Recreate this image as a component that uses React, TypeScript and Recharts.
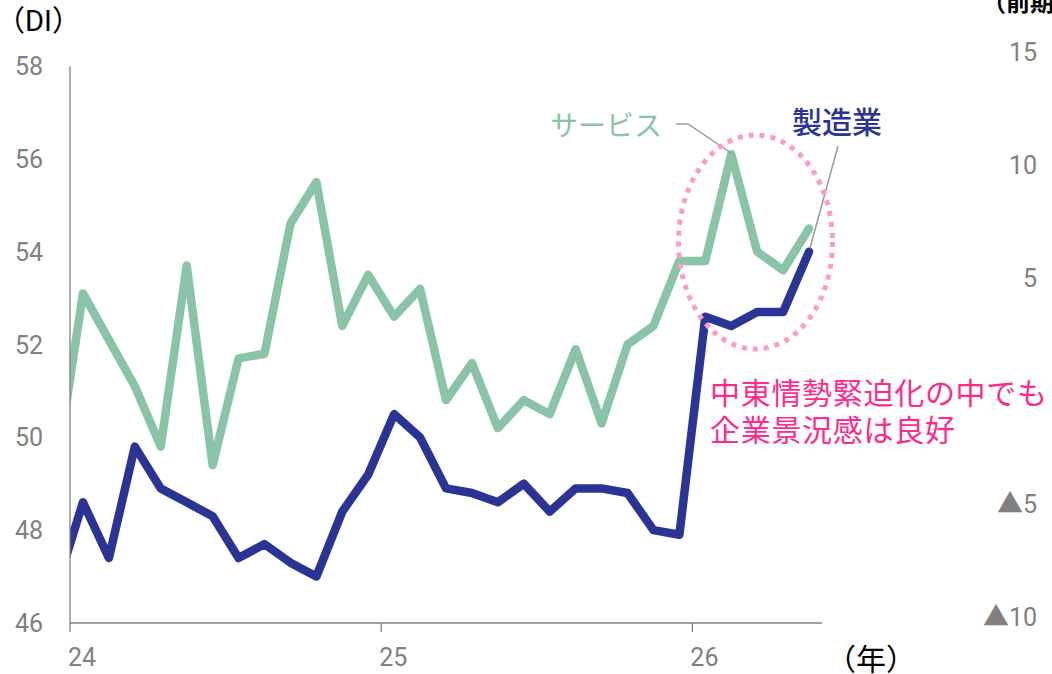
import { LineChart, Line, XAxis, YAxis } from 'recharts';

// monthly DI, Dec 2023 is only there so the line runs in from the left edge
const months = [
  '2023-12',
  '2024-01', '2024-02', '2024-03', '2024-04', '2024-05', '2024-06',
  '2024-07', '2024-08', '2024-09', '2024-10', '2024-11', '2024-12',
  '2025-01', '2025-02', '2025-03', '2025-04', '2025-05', '2025-06',
  '2025-07', '2025-08', '2025-09', '2025-10', '2025-11', '2025-12',
  '2026-01', '2026-02', '2026-03', '2026-04', '2026-05',
];
const manufacturing = [
  46.8,
  48.6, 47.4, 49.8, 48.9, 48.6, 48.3, 47.4, 47.7, 47.3, 47.0, 48.4, 49.2,
  50.5, 50.0, 48.9, 48.8, 48.6, 49.0, 48.4, 48.9, 48.9, 48.8, 48.0, 47.9,
  52.6, 52.4, 52.7, 52.7, 54.0,
];
const services = [
  49.4,
  53.1, 52.1, 51.1, 49.8, 53.7, 49.4, 51.7, 51.8, 54.6, 55.5, 52.4, 53.5,
  52.6, 53.2, 50.8, 51.6, 50.2, 50.8, 50.5, 51.9, 50.3, 52.0, 52.4, 53.8,
  53.8, 56.1, 54.0, 53.6, 54.5,
];
const yearTicks = [0, 12, 24];
const yearLabels = ['24', '25', '26'];
const diTicks = [46, 48, 50, 52, 54, 56, 58];
const rightTicks = [-10, -5, 5, 10, 15];

// x position = months since Jan 2024, plotted mid-month
const rows = months.map((m, i) => ({
  month: m,
  t: i - 0.5,
  manufacturing: manufacturing[i],
  services: services[i],
}));

const W = 1052;
const H = 674;
const NUM_FONT = "Roboto, 'Noto Sans CJK JP', sans-serif";
const JP_FONT = "'Noto Sans CJK JP', sans-serif";
const GREY = '#808080';

function LeftTick({ x, y, payload }: any) {
  return (
    <text x={x} y={y} dy="0.36em" textAnchor="end" fill={GREY} fontSize={25} fontFamily={NUM_FONT}>
      {payload.value}
    </text>
  );
}

function YearTick({ x, y, payload }: any) {
  const i = yearTicks.indexOf(payload.value);
  return (
    <text x={x - 2} y={y} dy="0.71em" textAnchor="start" fill={GREY} fontSize={25} fontFamily={NUM_FONT}>
      {yearLabels[i]}
    </text>
  );
}

function RightTick({ x, y, payload }: any) {
  const v = payload.value as number;
  return (
    <text x={x + 57} y={y} dy="0.36em" textAnchor="end" fill={GREY} fontSize={25} fontFamily={NUM_FONT}>
      {v < 0 && (
        <tspan fontSize={26} fontFamily={JP_FONT}>
          ▲
        </tspan>
      )}
      <tspan>{Math.abs(v)}</tspan>
    </text>
  );
}

export default function App() {
  return (
    <div style={{ position: 'absolute', left: 0, top: 0, width: W, height: H, background: '#fff' }}>
      <div style={{ position: 'absolute', left: 0, top: 0 }}>
        <LineChart width={W} height={H} data={rows} margin={{ top: 66, right: 230, bottom: 21, left: 8 }}>
          <XAxis
            dataKey="t"
            type="number"
            domain={[0, 29]}
            ticks={yearTicks}
            allowDataOverflow
            height={30}
            tickSize={9}
            tickMargin={16}
            stroke={GREY}
            strokeWidth={1.3}
            tick={<YearTick />}
          />
          <YAxis
            domain={[46, 58]}
            ticks={diTicks}
            width={62}
            allowDataOverflow
            tickLine={false}
            tickSize={6}
            tickMargin={21}
            stroke={GREY}
            strokeWidth={1.3}
            tick={<LeftTick />}
          />
          <Line
            dataKey="services"
            stroke="#88c4a5"
            strokeWidth={8.5}
            strokeLinejoin="round"
            strokeLinecap="round"
            dot={false}
            isAnimationActive={false}
          />
          <Line
            dataKey="manufacturing"
            stroke="#2a3494"
            strokeWidth={8.5}
            strokeLinejoin="round"
            strokeLinecap="round"
            dot={false}
            isAnimationActive={false}
          />
        </LineChart>
      </div>

      {/* right-hand axis sits on its own span, so it gets its own chart */}
      <div style={{ position: 'absolute', left: 0, top: 0, pointerEvents: 'none' }}>
        <LineChart width={W} height={H} data={rows} margin={{ top: 52, right: 0, bottom: 57, left: 0 }}>
          <XAxis dataKey="t" type="number" domain={[0, 29]} hide />
          <YAxis
            yAxisId="right"
            orientation="right"
            type="number"
            domain={[-10, 15]}
            ticks={rightTicks}
            allowDataOverflow
            width={80}
            axisLine={false}
            tickLine={false}
            tick={<RightTick />}
          />
          {/* the source draws no series on this axis; an invisible line registers it */}
          <Line
            yAxisId="right"
            dataKey="services"
            stroke="none"
            dot={false}
            legendType="none"
            isAnimationActive={false}
          />
        </LineChart>
      </div>

      <svg
        width={W}
        height={H}
        style={{ position: 'absolute', left: 0, top: 0, pointerEvents: 'none' }}
      >
        <text x={-4} y={21} dominantBaseline="central" fontSize={29} fontFamily={NUM_FONT} fill="#000">
          （DI）
        </text>
        <text x={982} y={11} fontSize={24} fontWeight="bold" fontFamily={JP_FONT} fill="#000">
          （前期比年率、％）
        </text>
        <text x={826} y={657} dominantBaseline="central" fontSize={30} fontFamily={JP_FONT} fill="#000">
          （年）
        </text>

        <text x={550} y={124} dominantBaseline="central" fontSize={28} fontFamily={JP_FONT} fill="#88c4a5">
          サービス
        </text>
        <polyline points="676,124 688,124 731,153" fill="none" stroke="#9a9a9a" strokeWidth={1.5} />

        <text x={792} y={120} dominantBaseline="central" fontSize={30} fontWeight={500} fontFamily={JP_FONT} fill="#2a3494">
          製造業
        </text>
        <line x1={838} y1={146} x2={810} y2={248} stroke="#9a9a9a" strokeWidth={1.5} />

        <ellipse
          cx={755.5}
          cy={242}
          rx={77}
          ry={107}
          fill="none"
          stroke="#ff99cc"
          strokeWidth={5}
          strokeDasharray="5 6"
        />

        <text x={710} y={391} dominantBaseline="central" fontSize={30} letterSpacing={0.7} fontFamily={JP_FONT} fill="#ff2a8c">
          中東情勢緊迫化の中でも
        </text>
        <text x={710} y={428} dominantBaseline="central" fontSize={30} letterSpacing={0.7} fontFamily={JP_FONT} fill="#ff2a8c">
          企業景況感は良好
        </text>
      </svg>
    </div>
  );
}
